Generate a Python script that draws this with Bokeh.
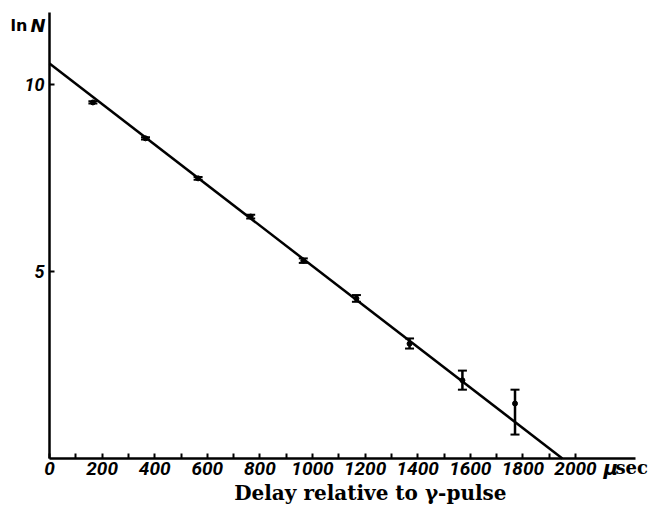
from bokeh.plotting import figure
from bokeh.models import ColumnDataSource, Whisker, TeeHead, FixedTicker, Label, Range1d, LinearAxis
from bokeh.embed import file_html
from bokeh.resources import INLINE

# Data
delay = [165, 365, 565, 765, 965, 1167, 1369, 1570, 1770]
ln_n = [9.52, 8.56, 7.49, 6.47, 5.29, 4.28, 3.07, 2.09, 1.47]
ln_n_low = [9.49, 8.53, 7.45, 6.42, 5.23, 4.19, 2.94, 1.84, 0.64]
ln_n_high = [9.55, 8.59, 7.53, 6.52, 5.35, 4.37, 3.21, 2.35, 1.84]
fit_x = [0, 1950]
fit_y = [10.56, 0.0]
x_ticks = [0, 200, 400, 600, 800, 1000, 1200, 1400, 1600, 1800, 2000]
x_minor = [100, 300, 500, 700, 900, 1100, 1300, 1500, 1700, 1900]
y_ticks = [5, 10]

W, H = 658, 506
X0_PX, Y0_PX = 49, 458          # pixel position of the origin
SX, SY = 0.263, 37.4            # pixels per data unit
x_start = -X0_PX / SX
x_end = x_start + W / SX
y_end = Y0_PX / SY
y_start = y_end - H / SY

p = figure(width=W, height=H, x_range=Range1d(x_start, x_end), y_range=Range1d(y_start, y_end),
           output_backend="svg", toolbar_location=None,
           x_axis_location=None, y_axis_location=None,
           min_border=0, min_border_left=0, min_border_right=0,
           min_border_top=0, min_border_bottom=0)
p.outline_line_color = None
p.grid.visible = False
p.background_fill_color = "white"
p.border_fill_color = "white"

xax = LinearAxis(fixed_location=0, bounds=(0, 2230),
                 ticker=FixedTicker(ticks=x_ticks, minor_ticks=x_minor))
yax = LinearAxis(fixed_location=0, bounds=(0, 11.93),
                 ticker=FixedTicker(ticks=y_ticks, minor_ticks=[]))
for ax in (xax, yax):
    ax.axis_line_width = 2.5
    ax.axis_line_color = "black"
    ax.major_tick_line_width = 2
    ax.minor_tick_line_width = 2
    ax.major_tick_in = 5
    ax.major_tick_out = 0
    ax.minor_tick_in = 5
    ax.minor_tick_out = 0
    ax.major_label_text_font = "Roboto"
    ax.major_label_text_font_style = "bold italic"
    ax.major_label_text_color = "black"
xax.major_label_text_font_size = "19px"
xax.major_label_standoff = 3
yax.major_label_text_font_size = "18px"
yax.major_label_standoff = 5
p.add_layout(xax, "below")
p.add_layout(yax, "left")

p.line(fit_x, fit_y, line_color="black", line_width=2.5)

src = ColumnDataSource(dict(x=delay, y=ln_n, lo=ln_n_low, hi=ln_n_high))
w = Whisker(source=src, base="x", lower="lo", upper="hi", dimension="height",
            line_width=2.5, line_color="black",
            upper_head=TeeHead(size=9, line_width=2, line_color="black"),
            lower_head=TeeHead(size=9, line_width=2, line_color="black"))
p.add_layout(w)
p.scatter("x", "y", source=src, size=5, color="black")

p.add_layout(Label(x=1220, y=-0.92, text="Delay relative to γ-pulse", text_align="center",
                   text_baseline="middle", text_font="DejaVu Serif", text_font_style="bold",
                   text_font_size="20px", text_color="black"))
p.add_layout(Label(x=2106, y=-0.25, text="μ", text_align="left", text_baseline="middle",
                   text_font="DejaVu Sans", text_font_style="bold italic",
                   text_font_size="20px", text_color="black"))
p.add_layout(Label(x=2152, y=-0.25, text="sec", text_align="left", text_baseline="middle",
                   text_font="DejaVu Serif", text_font_style="bold",
                   text_font_size="18px", text_color="black"))
p.add_layout(Label(x=-148, y=11.58, text="ln", text_align="left", text_baseline="middle",
                   text_font="DejaVu Sans", text_font_style="bold",
                   text_font_size="16px", text_color="black"))
p.add_layout(Label(x=-72, y=11.58, text="N", text_align="left", text_baseline="middle",
                   text_font="DejaVu Sans", text_font_style="bold italic",
                   text_font_size="18px", text_color="black"))

open("out.html", "w").write(file_html(p, INLINE))
